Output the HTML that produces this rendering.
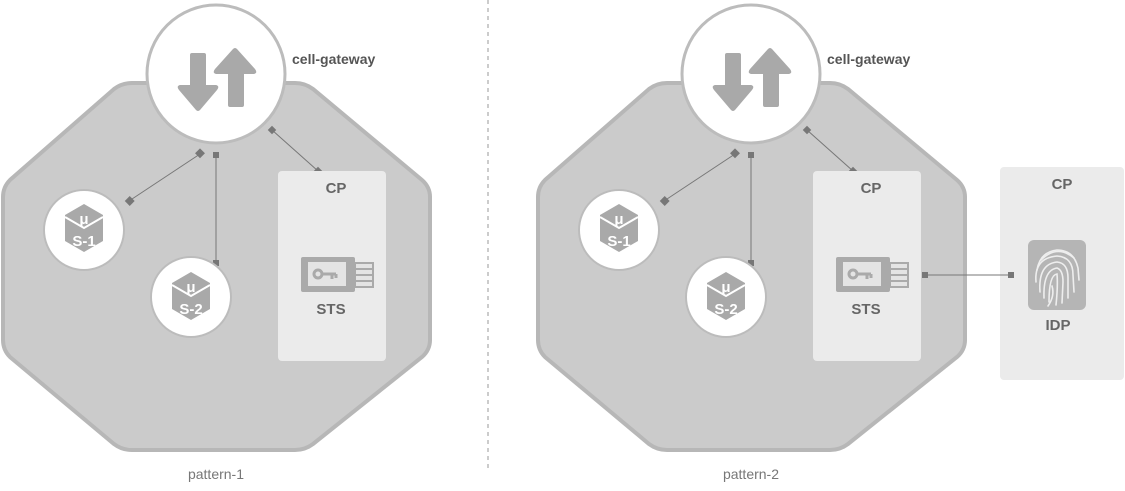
<!DOCTYPE html>
<html><head><meta charset="utf-8"><style>
html,body{margin:0;padding:0;background:#fff;width:1125px;height:491px;overflow:hidden}
svg{display:block}
text{font-family:"Liberation Sans",sans-serif}
</style></head><body>
<svg width="1125" height="491" viewBox="0 0 1125 491" xmlns="http://www.w3.org/2000/svg">
<defs>
  <g id="oct">
    <path d="M132,83 L295,83 Q305,83 313,89 L422,180 Q430,187 430,197 L430,340 Q430,350 422,357 L313,444 Q305,450 295,450 L132,450 Q122,450 114,444 L10,357 Q3,350 3,340 L3,197 Q3,187 10,180 L114,89 Q122,83 132,83 Z" fill="#cbcbcb" stroke="#b7b7b7" stroke-width="4"/>
  </g>
  <g id="gw">
    <circle cx="216" cy="74" r="69" fill="#fff" stroke="#bcbcbc" stroke-width="3"/>
    <path d="M192,53 L204,53 Q206,53 206,55 L206,85 L216,85 Q220,86 217,90 L200,110 Q198,112 196,110 L179,90 Q176,86 180,85 L190,85 L190,55 Q190,53 192,53 Z" fill="#a9a9a9"/>
    <path d="M230,107 L242,107 Q244,107 244,105 L244,74 L254,74 Q258,73 255,69 L237,49 Q235,47 233,49 L215,69 Q212,73 216,74 L228,74 L228,105 Q228,107 230,107 Z" fill="#a9a9a9"/>
  </g>
  <g id="cube">
    <path d="M0,-25 L19,-14 L19,12 L0,23 L-19,12 L-19,-14 Z" fill="#a9a9a9"/>
    <path d="M-19,-12 L0,-1 L19,-12" fill="none" stroke="#fff" stroke-width="2"/>
    <text x="0" y="-5" font-size="15" font-weight="bold" fill="#fff" text-anchor="middle">μ</text>
  </g>
  <g id="sts">
    <rect x="301" y="257" width="54" height="35" rx="2" fill="#aaaaaa"/>
    <rect x="308" y="262" width="38" height="24" fill="#e4e4e4"/>
    <circle cx="318" cy="274" r="4" fill="none" stroke="#aaa" stroke-width="3"/>
    <path d="M322,274 L336,274 M332,274 L332,279 M336,274 L336,278" stroke="#aaa" stroke-width="3" fill="none"/>
    <rect x="355" y="263" width="18" height="24" fill="#e4e4e4" stroke="#aaa" stroke-width="2"/>
    <path d="M355,269 L373,269 M355,275 L373,275 M355,281 L373,281" stroke="#aaa" stroke-width="2"/>
  </g>
  <g id="pat">
    <use href="#oct"/>
    <use href="#gw"/>
    <line x1="200" y1="154" x2="129" y2="201" stroke="#777" stroke-width="1"/>
    <rect x="196" y="150" width="7" height="7" fill="#777" transform="rotate(45 200 154)"/>
    <rect x="126" y="197" width="7" height="7" fill="#777" transform="rotate(45 129 201)"/>
    <line x1="216" y1="155" x2="216" y2="263" stroke="#777" stroke-width="1"/>
    <rect x="213" y="152" width="6" height="6" fill="#777"/>
    <rect x="213" y="260" width="6" height="6" fill="#777"/>
    <line x1="272" y1="130" x2="318" y2="171" stroke="#777" stroke-width="1"/>
    <rect x="269" y="127" width="6" height="6" fill="#777" transform="rotate(45 272 130)"/>
    <rect x="315" y="168" width="7" height="7" fill="#777" transform="rotate(45 318 171)"/>
    <circle cx="84" cy="230" r="40" fill="#fff" stroke="#bcbcbc" stroke-width="2"/>
    <g transform="translate(84,229)"><use href="#cube"/><text x="0" y="17" font-size="15" font-weight="bold" fill="#fff" text-anchor="middle">S-1</text></g>
    <circle cx="191" cy="297" r="40" fill="#fff" stroke="#bcbcbc" stroke-width="2"/>
    <g transform="translate(191,297)"><use href="#cube"/><text x="0" y="17" font-size="15" font-weight="bold" fill="#fff" text-anchor="middle">S-2</text></g>
    <rect x="278" y="171" width="108" height="190" rx="4" fill="#ebebeb"/>
    <text x="336" y="193" font-size="15" font-weight="bold" fill="#666" text-anchor="middle">CP</text>
    <use href="#sts"/>
    <text x="331" y="314" font-size="15" font-weight="bold" fill="#666" text-anchor="middle">STS</text>
    <text x="292" y="64" font-size="14" font-weight="bold" fill="#555">cell-gateway</text>
  </g>
</defs>

<line x1="488" y1="0" x2="488" y2="470" stroke="#999" stroke-width="1" stroke-dasharray="4,4"/>

<use href="#pat"/>
<text x="216" y="479" font-size="14" fill="#777" text-anchor="middle">pattern-1</text>
<g transform="translate(535,0)">
  <use href="#pat"/>
  <text x="216" y="479" font-size="14" fill="#777" text-anchor="middle">pattern-2</text>
</g>

<rect x="1000" y="167" width="124" height="213" rx="4" fill="#ebebeb"/>
<line x1="925" y1="275" x2="1011" y2="275" stroke="#777" stroke-width="1"/>
<rect x="922" y="272" width="6" height="6" fill="#777"/>
<rect x="1008" y="272" width="6" height="6" fill="#777"/>
<text x="1062" y="189" font-size="15" font-weight="bold" fill="#666" text-anchor="middle">CP</text>
<rect x="1028" y="240" width="58" height="70" rx="6" fill="#b5b5b5"/>
<g fill="none" stroke="#eee" stroke-width="1.6" stroke-linecap="round">
  <path d="M1041,260 Q1057,244 1074,258"/>
  <path d="M1037,270 Q1040,252 1057,250 Q1074,250 1078,268 L1079,280"/>
  <path d="M1036,282 Q1034,258 1057,256 Q1073,257 1073,275 L1074,292"/>
  <path d="M1040,292 Q1038,264 1057,262 Q1068,263 1068,278 L1068,298"/>
  <path d="M1044,298 Q1043,270 1057,268 Q1063,270 1063,282 L1062,303"/>
  <path d="M1049,302 Q1049,275 1057,274 Q1058,286 1056,305"/>
  <path d="M1052,286 Q1055,296 1048,306"/>
</g>
<text x="1058" y="330" font-size="15" font-weight="bold" fill="#666" text-anchor="middle">IDP</text>
</svg>
</body></html>
